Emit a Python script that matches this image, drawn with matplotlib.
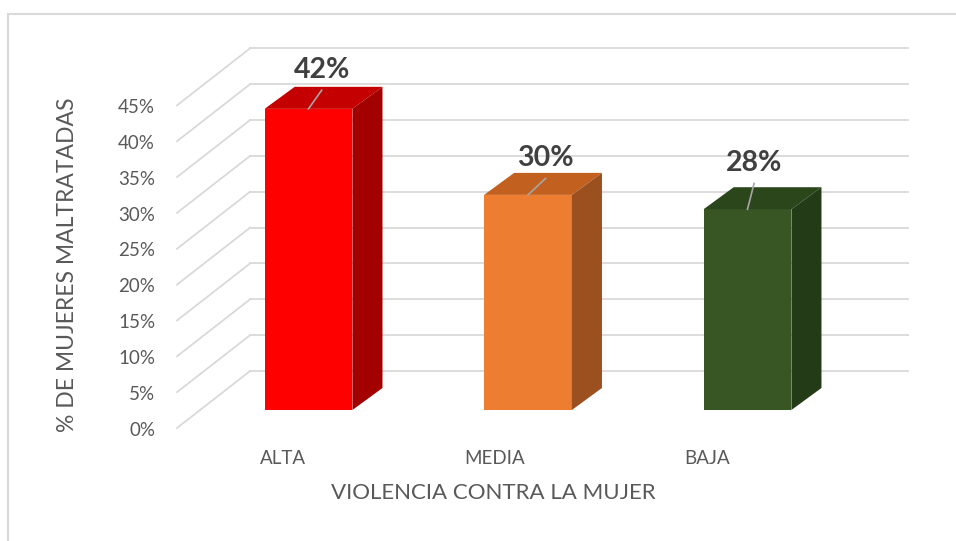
import matplotlib
matplotlib.use("Agg")
import matplotlib.pyplot as plt
from matplotlib.patches import Polygon, Rectangle

# data
categories = ["ALTA", "MEDIA", "BAJA"]
values = [42, 30, 28]
labels = ["42%", "30%", "28%"]
ticks = [0, 5, 10, 15, 20, 25, 30, 35, 40, 45]
y_title = "% DE MUJERES MALTRATADAS"
x_title = "VIOLENCIA CONTRA LA MUJER"

# colours: front, top, side
front_cols = ["#ff0000", "#ed7d31", "#375623"]
top_cols = ["#c40000", "#c2611f", "#2b461b"]
side_cols = ["#a30000", "#9c5020", "#233b16"]

plt.rcParams["font.family"] = ["Lato", "DejaVu Sans"]
text_col = "#595959"
grid_col = "#d9d9d9"

fig = plt.figure(figsize=(9.56, 5.41), dpi=100)
ax = fig.add_axes([0, 0, 1, 1])
ax.set_xlim(-1.4055, 2.9499)
ax.set_ylim(-18.27, 57.18)
ax.axis("off")

# 3d geometry (in data units, relative to the bar front plane)
w = 0.40
ddx, ddy = 0.137, 3.07          # bar depth
wall_x = -0.494                 # left wall at bar plane
fx, fy = -0.105, -2.51          # front edge of walls
bx, by = 0.228, 5.44            # back wall
right_x = 2.503

# walls / gridlines
for t in ticks:
    ax.plot([wall_x + fx, wall_x + bx], [t + fy, t + by], color=grid_col, lw=1.3, zorder=1)
    ax.plot([wall_x + bx, right_x + bx], [t + by, t + by], color=grid_col, lw=1.3, zorder=1)
    ax.text(wall_x + fx - 0.1, t + fy - 0.3, f"{t}%", ha="right", va="center",
            fontsize=13.5, color=text_col)

# bars
xs = list(range(len(values)))
ax.bar(xs, values, width=w, color=front_cols, zorder=3)
for i, v in enumerate(values):
    l, r = i - w / 2, i + w / 2
    ax.add_patch(Polygon([(l, v), (r, v), (r + ddx, v + ddy), (l + ddx, v + ddy)],
                         closed=True, facecolor=top_cols[i], edgecolor="none", zorder=3))
    ax.add_patch(Polygon([(r, 0), (r + ddx, ddy), (r + ddx, v + ddy), (r, v)],
                         closed=True, facecolor=side_cols[i], edgecolor="none", zorder=3))

# data labels with leader lines
lab_dx = [0.06, 0.08, 0.03]
lab_dy = [5.4, 5.1, 6.4]
for i, v in enumerate(values):
    lx, ly = i + lab_dx[i], v + lab_dy[i]
    ax.plot([i, lx], [v, ly - 2.8], color="#a6a6a6", lw=1.2, zorder=4)
    ax.text(lx, ly, labels[i], ha="center", va="center", fontsize=20.5,
            fontweight="bold", color="#404040", zorder=5)

# category labels (on the front edge, slight perspective)
for i, c in enumerate(categories):
    ax.text(-0.116 + i * 0.966, -6.83, c, ha="center", va="center",
            fontsize=13.5, color=text_col)

ax.text(0.84, -11.58, x_title, ha="center", va="center", fontsize=16, color=text_col)
ax.text(-1.096, 20.2, y_title, ha="center", va="center", rotation=90,
        fontsize=16.5, color=text_col)

# chart border
fig.patches.append(Rectangle((8 / 956, -0.05), 1.1, (541 - 14) / 541 + 0.05,
                             transform=fig.transFigure, fill=False,
                             edgecolor=grid_col, lw=1.5))

fig.savefig("out.png", dpi=100)
